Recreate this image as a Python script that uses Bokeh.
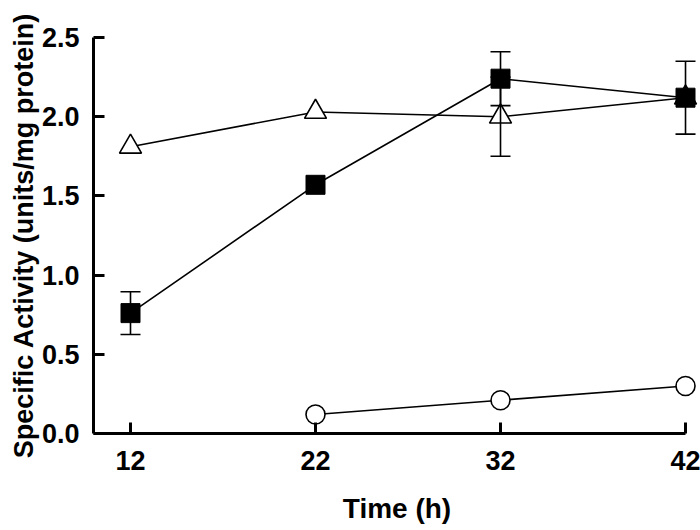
from bokeh.plotting import figure
from bokeh.models import ColumnDataSource, Whisker, TeeHead, FixedTicker, PrintfTickFormatter, Range1d
from bokeh.embed import file_html
from bokeh.resources import INLINE

# ---- data ----
time_h = [12, 22, 32, 42]
square_y = [0.76, 1.57, 2.24, 2.12]
square_err = [0.135, 0.0, 0.17, 0.23]
triangle_y = [1.81, 2.03, 2.00, 2.12]
triangle_err = [0.0, 0.0, 0.25, 0.0]
circle_t = [22, 32, 42]
circle_y = [0.12, 0.21, 0.30]
x_ticks = [12, 22, 32, 42]
y_ticks = [0.0, 0.5, 1.0, 1.5, 2.0, 2.5]

FONT = "Liberation Sans"

p = figure(width=700, height=530, output_backend="svg", toolbar_location=None,
           x_range=Range1d(10, 42.81), y_range=Range1d(0, 2.5))
p.min_border_left = 93
p.min_border_right = 0
p.min_border_top = 37
p.min_border_bottom = 97
p.outline_line_color = None
p.xgrid.visible = False
p.ygrid.visible = False
p.background_fill_color = "white"
p.border_fill_color = "white"

for ax in (p.xaxis[0], p.yaxis[0]):
    ax.axis_line_width = 3
    ax.axis_line_color = "black"
    ax.major_tick_line_width = 3
    ax.major_tick_line_color = "black"
    ax.major_tick_in = 11
    ax.major_tick_out = 0
    ax.minor_tick_line_color = None
    ax.major_label_text_font = FONT
    ax.major_label_text_font_style = "bold"
    ax.major_label_text_font_size = "27px"
    ax.major_label_text_color = "black"
    ax.axis_label_text_font = FONT
    ax.axis_label_text_font_style = "bold"
    ax.axis_label_text_color = "black"

p.xaxis[0].ticker = FixedTicker(ticks=x_ticks)
p.xaxis[0].bounds = (10, 42)
p.xaxis[0].major_label_standoff = 17
p.xaxis[0].axis_label = "Time (h)"
p.xaxis[0].axis_label_text_font_size = "28px"
p.xaxis[0].axis_label_standoff = 20

p.yaxis[0].ticker = FixedTicker(ticks=y_ticks)
p.yaxis[0].formatter = PrintfTickFormatter(format="%.1f")
p.yaxis[0].bounds = (0, 2.5)
p.yaxis[0].major_label_standoff = 14
p.yaxis[0].axis_label = "Specific Activity (units/mg protein)"
p.yaxis[0].axis_label_text_font_size = "27px"
p.yaxis[0].axis_label_standoff = 0

LW = 1.6

# lines
p.line(time_h, triangle_y, line_color="black", line_width=LW)
p.line(time_h, square_y, line_color="black", line_width=LW)
p.line(circle_t, circle_y, line_color="black", line_width=LW)

# error bars
def add_err(xs, ys, es):
    xx, lo, hi = [], [], []
    for x, y, e in zip(xs, ys, es):
        if e > 0:
            xx.append(x); lo.append(y - e); hi.append(y + e)
    src = ColumnDataSource(dict(x=xx, lower=lo, upper=hi))
    w = Whisker(source=src, base="x", lower="lower", upper="upper",
                line_color="black", line_width=LW, level="glyph",
                upper_head=TeeHead(size=20, line_width=LW, line_color="black"),
                lower_head=TeeHead(size=20, line_width=LW, line_color="black"))
    p.add_layout(w)

add_err(time_h, triangle_y, triangle_err)

p.scatter(time_h, triangle_y, marker="triangle", size=22, fill_color="white",
          line_color="black", line_width=LW)

add_err(time_h, square_y, square_err)
p.scatter(time_h, square_y, marker="square", size=19, fill_color="black",
          line_color="black", line_width=1)

p.scatter(circle_t, circle_y, marker="circle", size=19, fill_color="white",
          line_color="black", line_width=LW)

open("out.html", "w").write(file_html(p, INLINE))
